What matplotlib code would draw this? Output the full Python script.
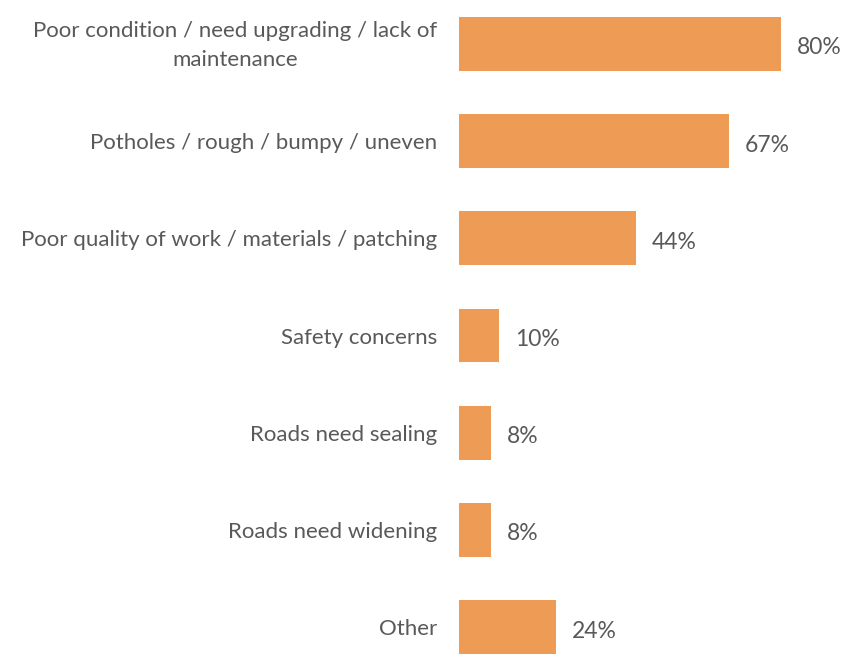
import matplotlib
matplotlib.use("Agg")
import matplotlib.pyplot as plt
from matplotlib.transforms import ScaledTranslation

categories = [
    "Poor condition / need upgrading / lack of\nmaintenance",
    "Potholes / rough / bumpy / uneven",
    "Poor quality of work / materials / patching",
    "Safety concerns",
    "Roads need sealing",
    "Roads need widening",
    "Other",
]
values = [80, 67, 44, 10, 8, 8, 24]

W, H = 856, 657
bar_color = "#ED9B55"
text_color = "#595959"

plt.rcParams["font.family"] = ["Lato", "DejaVu Sans"]

fig = plt.figure(figsize=(W / 100, H / 100), dpi=100)
left_px = 459
px_per_unit = 4.025
ax = fig.add_axes([left_px / W, 0, 1 - left_px / W, 1])
ax.set_xlim(0, (W - left_px) / px_per_unit)

row_px = 97.17
ymin = -44 / row_px
ax.set_ylim(ymin + H / row_px, ymin)

y = list(range(len(categories)))
ax.barh(y, values, height=0.555, color=bar_color)

for yi, v in zip(y, values):
    ax.annotate(f"{v}%", (v, yi), xytext=(16, -4), textcoords="offset pixels",
                va="center", ha="left", fontsize=16.5, color=text_color)

ax.set_yticks(y)
ax.set_yticklabels(categories, fontsize=16, color=text_color, linespacing=1.56,
                   ha="right", multialignment="center")
ax.tick_params(axis="y", length=0, pad=16)
ax.set_xticks([])
for s in ax.spines.values():
    s.set_visible(False)

# nudge the two-line label up so it sits centred on its bar
first = ax.get_yticklabels()[0]
first.set_transform(first.get_transform() + ScaledTranslation(0, 5 / 100, fig.dpi_scale_trans))

fig.savefig("out.png", dpi=100)
